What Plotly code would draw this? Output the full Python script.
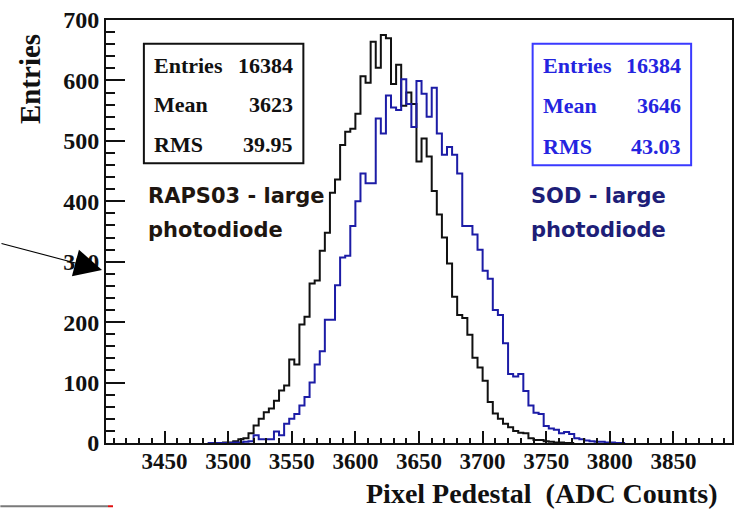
import plotly.graph_objects as go

# ---------------- data ----------------
BIN_WIDTH = 4
FIRST_EDGE = 3484          # low edge of the first listed bin (ADC counts)

raps03_counts = [0, 0, 0, 1, 1, 3, 6, 8, 16, 29, 40, 51, 57, 70, 87, 95, 138, 130, 196, 209,
                 264, 269, 318, 348, 414, 436, 493, 515, 520, 545, 607, 596, 664, 621, 675, 670,
                 594, 626, 558, 580, 561, 466, 504, 474, 417, 378, 340, 297, 242, 212, 207, 179,
                 141, 125, 103, 68, 49, 40, 32, 26, 20, 17, 16, 8, 5, 5, 3, 2, 1, 1, 0, 0]

sod_counts = [0, 0, 0, 0, 0, 1, 1, 2, 3, 13, 6, 6, 6, 19, 13, 32, 40, 48, 62, 76,
              100, 130, 152, 204, 204, 261, 307, 310, 359, 400, 446, 430, 430, 537, 512, 575,
              555, 551, 602, 561, 523, 599, 578, 540, 588, 512, 477, 490, 477, 446, 359, 359,
              345, 320, 285, 272, 220, 212, 165, 114, 110, 114, 86, 62, 50, 48, 28, 24, 22, 16,
              18, 15, 8, 6, 4, 3, 2, 2, 1, 1, 0, 0]

stat_labels = ["Entries", "Mean", "RMS"]
raps03_stats = ["16384", "3623", "39.95"]
sod_stats = ["16384", "3646", "43.03"]

x_tick_values = [3450, 3500, 3550, 3600, 3650, 3700, 3750, 3800, 3850]
y_tick_values = [0, 100, 200, 300, 400, 500, 600, 700]

raps03_label = ["RAPS03 - large", "photodiode"]
sod_label = ["SOD - large", "photodiode"]

# ---------------- helpers ----------------
W, H = 741, 509
ML, MR, MT, MB = 106, 7, 15, 66
PW, PH = W - ML - MR, H - MT - MB


def px(x):
    return (x - ML) / PW


def py(y):
    return (MT + PH - y) / PH


def step_xy(counts):
    edges = [FIRST_EDGE + BIN_WIDTH * i for i in range(len(counts) + 1)]
    return edges, counts + [counts[-1]]


serif = "Liberation Serif, Times New Roman, serif"
comic = "DejaVu Sans, Verdana, sans-serif"
BLUE_TXT = "#2424e0"
BLUE_LINE = "#1c1ca6"

fig = go.Figure()

bx, by = step_xy(raps03_counts)
fig.add_trace(go.Scatter(x=bx, y=by, mode="lines", line=dict(color="#111111", width=2, shape="hv"),
                         showlegend=False, hoverinfo="skip"))
sx, sy = step_xy(sod_counts)
fig.add_trace(go.Scatter(x=sx, y=sy, mode="lines", line=dict(color=BLUE_LINE, width=2, shape="hv"),
                         showlegend=False, hoverinfo="skip"))

annotations = []
shapes = []

# stat boxes
shapes.append(dict(type="rect", xref="paper", yref="paper", x0=px(144), x1=px(304), y0=py(160), y1=py(39),
                   line=dict(color="#111111", width=2), fillcolor="white", layer="above"))
shapes.append(dict(type="rect", xref="paper", yref="paper", x0=px(534), x1=px(693), y0=py(162), y1=py(39),
                   line=dict(color="#3a3aff", width=2), fillcolor="white", layer="above"))

rows_black = [61, 100, 141]
rows_blue = [61, 102, 143]
for lab, val, yy in zip(stat_labels, raps03_stats, rows_black):
    annotations.append(dict(text=lab, x=px(152), y=py(yy), xref="paper", yref="paper", xanchor="left",
                            yanchor="middle", showarrow=False,
                            font=dict(family=serif, size=22, color="#111111", weight="bold")))
    annotations.append(dict(text=val, x=px(296), y=py(yy), xref="paper", yref="paper", xanchor="right",
                            yanchor="middle", showarrow=False,
                            font=dict(family=serif, size=22, color="#111111", weight="bold")))
for lab, val, yy in zip(stat_labels, sod_stats, rows_blue):
    annotations.append(dict(text=lab, x=px(542), y=py(yy), xref="paper", yref="paper", xanchor="left",
                            yanchor="middle", showarrow=False,
                            font=dict(family=serif, size=22, color=BLUE_TXT, weight="bold")))
    annotations.append(dict(text=val, x=px(685), y=py(yy), xref="paper", yref="paper", xanchor="right",
                            yanchor="middle", showarrow=False,
                            font=dict(family=serif, size=22, color=BLUE_TXT, weight="bold")))

# series labels
for txt, yy in zip(raps03_label, [193, 227]):
    annotations.append(dict(text=txt, x=px(146), y=py(yy), xref="paper", yref="paper", xanchor="left",
                            yanchor="middle", showarrow=False,
                            font=dict(family=comic, size=21, color="#1e1610", weight="bold")))
for txt, yy in zip(sod_label, [193, 227]):
    annotations.append(dict(text=txt, x=px(530), y=py(yy), xref="paper", yref="paper", xanchor="left",
                            yanchor="middle", showarrow=False,
                            font=dict(family=comic, size=21, color="#1e1e78", weight="bold")))

# axis titles
annotations.append(dict(text="Entries", x=px(30), y=py(27), xref="paper", yref="paper", xanchor="center",
                        yanchor="top", textangle=-90, showarrow=False,
                        font=dict(family=serif, size=29, color="#111111", weight="bold")))
annotations.append(dict(text="Pixel Pedestal&nbsp;&nbsp;(ADC Counts)", x=px(721), y=py(511), xref="paper",
                        yref="paper", xanchor="right", yanchor="bottom", showarrow=False, borderpad=0,
                        font=dict(family=serif, size=28, color="#111111", weight="bold")))

# stray arrow on the left
annotations.append(dict(text="", x=px(102), y=py(268), xref="paper", yref="paper", showarrow=True,
                        ax=-112, ay=-27, arrowhead=2, arrowsize=5, arrowwidth=1.1,
                        arrowcolor="#000000"))

# stray line at bottom-left
shapes.append(dict(type="line", xref="paper", yref="paper", x0=px(0), x1=px(108), y0=py(507), y1=py(507),
                   line=dict(color="#7a7a7a", width=2)))
shapes.append(dict(type="line", xref="paper", yref="paper", x0=px(108), x1=px(113), y0=py(507), y1=py(507),
                   line=dict(color="#e01010", width=2)))

fig.update_layout(
    width=W, height=H,
    margin=dict(l=ML, r=MR, t=MT, b=MB),
    paper_bgcolor="white", plot_bgcolor="white",
    annotations=annotations, shapes=shapes,
    showlegend=False,
)
fig.update_xaxes(
    range=[3404, 3896], showgrid=False, zeroline=False,
    showline=True, linecolor="#111111", linewidth=2, mirror=True,
    tickmode="array", tickvals=x_tick_values,
    ticks="inside", ticklen=12, tickwidth=1.5, tickcolor="#111111",
    ticklabelstandoff=-4,
    tickfont=dict(family=serif, size=23, color="#111111", weight="bold"),
    minor=dict(tick0=3400, dtick=10, ticks="inside", ticklen=5, tickwidth=1.5, tickcolor="#111111",
               showgrid=False),
)
fig.update_yaxes(
    range=[0, 700], showgrid=False, zeroline=False,
    showline=True, linecolor="#111111", linewidth=2, mirror=True,
    tickmode="array", tickvals=y_tick_values,
    ticks="inside", ticklen=19, tickwidth=1.5, tickcolor="#111111",
    tickfont=dict(family=serif, size=24, color="#111111", weight="bold"),
    minor=dict(tick0=0, dtick=20, ticks="inside", ticklen=9, tickwidth=1.5, tickcolor="#111111",
               showgrid=False),
)

fig.write_html("out.html")
